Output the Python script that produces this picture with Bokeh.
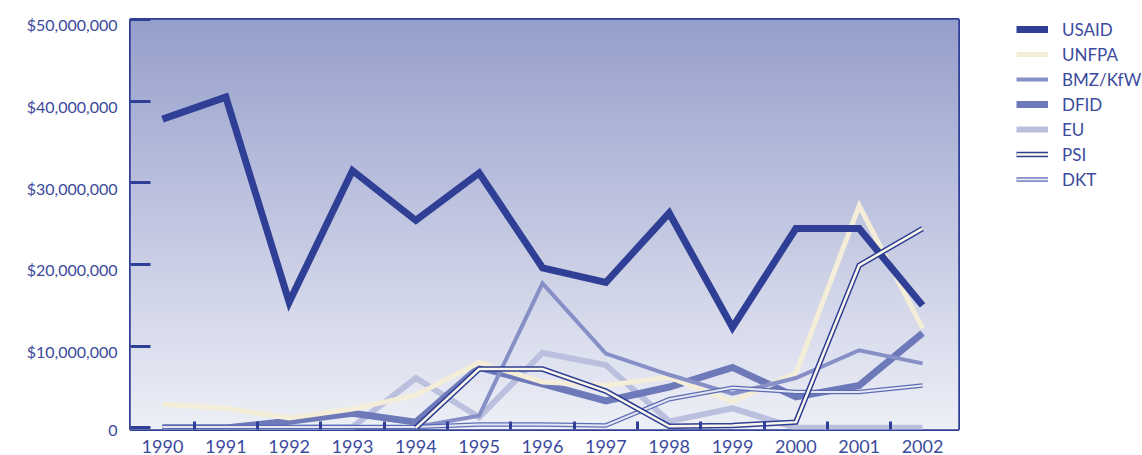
import numpy as np
from bokeh.plotting import figure
from bokeh.models import Range1d, FixedTicker, Legend, LegendItem, LinearAxis
from bokeh.embed import file_html
from bokeh.resources import INLINE

nan = float("nan")
years = [1990, 1991, 1992, 1993, 1994, 1995, 1996, 1997, 1998, 1999, 2000, 2001, 2002]

usaid = [37.8, 40.5, 15.4, 31.5, 25.4, 31.2, 19.6, 17.8, 26.3, 12.3, 24.4, 24.4, 15.0]
unfpa = [2.9, 2.4, 1.2, 2.3, 4.0, 8.0, 5.6, 5.2, 6.2, 3.2, 6.7, 27.2, 12.2]
bmz = [0.0, 0.0, 0.1, 0.1, 0.1, 1.5, 17.7, 9.1, 6.5, 4.2, 6.1, 9.5, 7.9]
dfid = [0.0, 0.0, 0.8, 1.8, 0.7, 7.4, 5.4, 3.3, 5.0, 7.4, 3.8, 5.2, 11.6]
eu = [0.0, 0.0, 0.0, 0.1, 6.1, 1.3, 9.2, 7.7, 0.8, 2.4, 0.0, 0.0, 0.0]
psi = [nan, nan, nan, nan, 0.0, 7.2, 7.2, 4.5, 0.2, 0.3, 0.7, 19.9, 24.4]
dkt = [0.1, 0.1, 0.1, 0.1, 0.1, 0.4, 0.4, 0.3, 3.5, 4.9, 4.4, 4.4, 5.2]

y_ticks = [0, 10e6, 20e6, 30e6, 40e6, 50e6]
y_tick_labels = ["0", "$10,000,000", "$20,000,000", "$30,000,000", "$40,000,000", "$50,000,000"]
series_names = ["USAID", "UNFPA", "BMZ/KfW", "DFID", "EU", "PSI", "DKT"]

def dollars(v):
    return [x * 1e6 for x in v]

DARK = "#2f3f95"
TXT = "#3b4a9d"
FONT = "Lato"

x0, x1 = 1989.495, 2002.568
y0, y1 = -0.2e6, 50e6
LABEL_SHIFT = 0.65e6  # labels sit slightly below their tick marks

p = figure(frame_width=828, frame_height=410, min_border_left=130, min_border_right=184,
           min_border_top=19, min_border_bottom=26, output_backend="svg",
           toolbar_location=None, x_range=Range1d(x0, x1), y_range=Range1d(y0, y1))
p.background_fill_color = "#c0c5e0"
p.border_fill_color = "white"
p.outline_line_color = DARK
p.outline_line_width = 3
p.grid.visible = False

# gradient background
N = 256
t = np.linspace(0, 1, N)  # 0 bottom -> 1 top
bot = np.array([238, 240, 247])
top = np.array([150, 159, 204])
cols = (bot[None, :] * (1 - t[:, None]) + top[None, :] * t[:, None]).astype(np.uint8)
img = np.empty((N, 1), dtype=np.uint32)
view = img.view(dtype=np.uint8).reshape((N, 1, 4))
view[:, 0, 0] = cols[:, 0]
view[:, 0, 1] = cols[:, 1]
view[:, 0, 2] = cols[:, 2]
view[:, 0, 3] = 255
p.image_rgba(image=[img], x=x0, y=y0, dw=x1 - x0, dh=y1 - y0)

yv = {
    "USAID": dollars(usaid), "UNFPA": dollars(unfpa), "BMZ/KfW": dollars(bmz),
    "DFID": dollars(dfid), "EU": dollars(eu), "PSI": dollars(psi), "DKT": dollars(dkt),
}

kw = dict(line_join="miter", line_cap="butt")
r_eu = p.line(years, yv["EU"], line_color="#bac0de", line_width=6, **kw)
r_dfid = p.line(years, yv["DFID"], line_color="#6d79b8", line_width=7, **kw)
r_unfpa = p.line(years, yv["UNFPA"], line_color="#f4eed8", line_width=5, **kw)
r_bmz = p.line(years, yv["BMZ/KfW"], line_color="#8690c6", line_width=4, **kw)
r_dkt_o = p.line(years, yv["DKT"], line_color="#5e6cb4", line_width=4.5, **kw)
r_dkt_i = p.line(years, yv["DKT"], line_color="#e4e7f3", line_width=2, **kw)
r_usaid = p.line(years, yv["USAID"], line_color=DARK, line_width=7, **kw)
r_psi_o = p.line(years, yv["PSI"], line_color=DARK, line_width=5.5, **kw)
r_psi_i = p.line(years, yv["PSI"], line_color="#fbf8ea", line_width=2.5, **kw)

# x axis: labels at years, short inner ticks between years
p.xaxis.ticker = FixedTicker(ticks=years, minor_ticks=[y + 0.5 for y in years[:-1]])
p.xaxis.axis_line_color = None
p.xaxis.major_tick_line_color = None
p.xaxis.minor_tick_in = 8
p.xaxis.minor_tick_out = 0
p.xaxis.minor_tick_line_width = 3
p.xaxis.minor_tick_line_color = DARK
p.xaxis.major_label_standoff = 4
p.xaxis.major_label_text_font = FONT
p.xaxis.major_label_text_font_size = "18px"
p.xaxis.major_label_text_color = TXT

# y axis 1: tick marks only
p.yaxis.ticker = FixedTicker(ticks=y_ticks)
p.yaxis.major_label_overrides = {v: "" for v in y_ticks}
p.yaxis.axis_line_color = None
p.yaxis.minor_tick_line_color = None
p.yaxis.major_tick_in = 20
p.yaxis.major_tick_out = 0
p.yaxis.major_tick_line_width = 3
p.yaxis.major_tick_line_color = DARK
p.yaxis.major_label_standoff = 0
p.yaxis.major_label_text_font_size = "1px"

# y axis 2: labels only, set slightly lower than the ticks (kept inside the range)
lab_pos = [max(v - LABEL_SHIFT, y0) for v in y_ticks]
lab_axis = LinearAxis(ticker=FixedTicker(ticks=lab_pos),
                      major_label_overrides={v: s for v, s in zip(lab_pos, y_tick_labels)},
                      axis_line_color=None, major_tick_line_color=None,
                      minor_tick_line_color=None, major_tick_in=0, major_tick_out=0,
                      major_label_standoff=13, major_label_text_font=FONT,
                      major_label_text_font_size="16px", major_label_text_color=TXT)
p.add_layout(lab_axis, "left")

renders = {
    "USAID": [r_usaid], "UNFPA": [r_unfpa], "BMZ/KfW": [r_bmz], "DFID": [r_dfid],
    "EU": [r_eu], "PSI": [r_psi_o, r_psi_i], "DKT": [r_dkt_o, r_dkt_i],
}
items = [LegendItem(label=n, renderers=renders[n]) for n in series_names]
legend = Legend(items=items, location=(58, 239), margin=0, padding=0,
                glyph_width=32, glyph_height=22, label_height=22, spacing=3,
                label_standoff=14, border_line_color=None, background_fill_alpha=0,
                label_text_font=FONT, label_text_font_size="17px", label_text_color=TXT)
p.add_layout(legend, "right")

open("out.html", "w").write(file_html(p, INLINE))
